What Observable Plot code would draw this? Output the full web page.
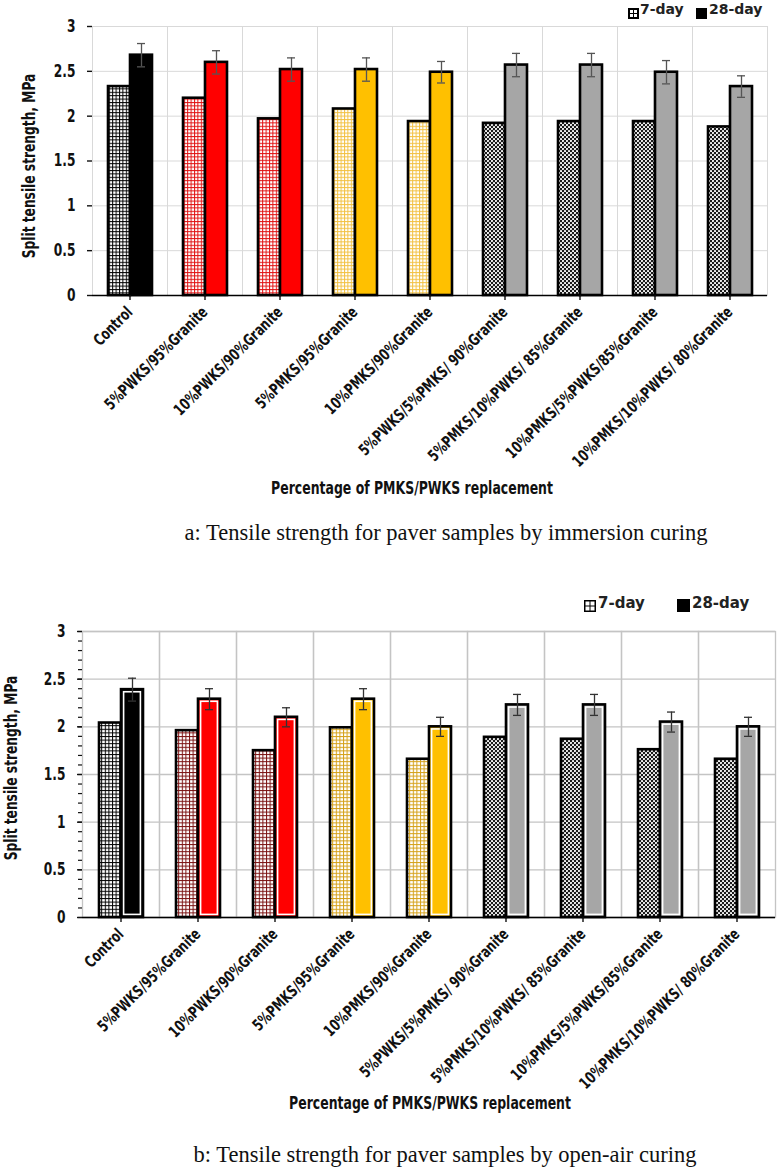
<!DOCTYPE html>
<html><head><meta charset="utf-8">
<script src="https://cdn.jsdelivr.net/npm/d3@7"></script>
<script src="https://cdn.jsdelivr.net/npm/@observablehq/plot@0.6"></script>
<style>
body{margin:0;background:#fff;width:782px;height:1168px;position:relative;overflow:hidden;}
.abs{position:absolute;white-space:nowrap;}
.narrow{font-family:"Liberation Sans Narrow","DejaVu Sans Condensed","Arial Narrow",sans-serif;font-weight:bold;color:#111;}
.ctr{transform:translate(-50%,-50%);}
.ctrn{transform:translate(-50%,-50%) scaleX(0.77);}
.rot{transform:translate(-50%,-50%) rotate(-90deg) scaleX(0.8);}
.cap{font-family:"Liberation Serif","Times New Roman",serif;font-size:22.5px;color:#111;}
.leg{font-family:"DejaVu Sans",sans-serif;font-weight:bold;color:#222;}
</style></head>
<body>
<div id="chartA" class="abs" style="left:0;top:0;"></div>
<div id="chartB" class="abs" style="left:0;top:610px;"></div>

<div class="abs narrow rot" style="left:29px;top:166px;font-size:17px;">Split tensile strength, MPa</div>
<div class="abs narrow ctrn" style="left:412px;top:487px;font-size:18px;">Percentage of PMKS/PWKS replacement</div>
<div class="abs cap ctr" style="left:446px;top:533px;">a: Tensile strength for paver samples by immersion curing</div>

<div class="abs narrow rot" style="left:11px;top:768px;font-size:17px;">Split tensile strength, MPa</div>
<div class="abs narrow ctrn" style="left:430px;top:1102px;font-size:18px;">Percentage of PMKS/PWKS replacement</div>
<div class="abs cap ctr" style="left:445px;top:1155px;">b: Tensile strength for paver samples by open-air curing</div>

<div class="abs" style="left:628px;top:5px;"><svg width="11" height="11"><rect width="11" height="11" fill="#000"/><rect x="2" y="2" width="3" height="3" fill="#fff"/><rect x="6" y="2" width="3" height="3" fill="#fff"/><rect x="2" y="6" width="3" height="3" fill="#fff"/><rect x="6" y="6" width="3" height="3" fill="#fff"/></svg></div>
<div class="abs leg" style="left:640px;top:1px;font-size:14px;">7-day</div>
<div class="abs" style="left:696px;top:5px;"><svg width="11" height="11"><rect width="11" height="11" fill="#000"/></svg></div>
<div class="abs leg" style="left:709px;top:1px;font-size:14px;">28-day</div>

<div class="abs" style="left:584px;top:598px;"><svg width="12" height="12"><rect width="12" height="12" fill="#000"/><rect x="1.5" y="1.5" width="4" height="4" fill="#fff"/><rect x="6.5" y="1.5" width="4" height="4" fill="#fff"/><rect x="1.5" y="6.5" width="4" height="4" fill="#fff"/><rect x="6.5" y="6.5" width="4" height="4" fill="#fff"/></svg></div>
<div class="abs leg" style="left:598px;top:594px;font-size:15px;">7-day</div>
<div class="abs" style="left:677px;top:598px;"><svg width="13" height="13"><rect width="13" height="13" fill="#000"/></svg></div>
<div class="abs leg" style="left:692px;top:594px;font-size:15px;">28-day</div>

<script>
const categories = ["Control","5%PWKS/95%Granite","10%PWKS/90%Granite","5%PMKS/95%Granite","10%PMKS/90%Granite","5%PWKS/5%PMKS/ 90%Granite","5%PMKS/10%PWKS/ 85%Granite","10%PMKS/5%PWKS/85%Granite","10%PMKS/10%PWKS/ 80%Granite"];
const series = ["7-day","28-day"];
const yTicks = [0,0.5,1,1.5,2,2.5,3];
const minorTicks = [0,0.1,0.2,0.3,0.4,0.5,0.6,0.7,0.8,0.9,1,1.1,1.2,1.3,1.4,1.5,1.6,1.7,1.8,1.9,2,2.1,2.2,2.3,2.4,2.5,2.6,2.7,2.8,2.9,3];

// a: immersion curing
const immersion7  = [2.33, 2.20, 1.97, 2.08, 1.94, 1.92, 1.94, 1.94, 1.88];
const immersion28 = [2.68, 2.60, 2.52, 2.52, 2.49, 2.57, 2.57, 2.49, 2.33];
const immersionErr = [0.13, 0.13, 0.13, 0.13, 0.12, 0.13, 0.13, 0.13, 0.12];
// b: open-air curing
const openAir7  = [2.04, 1.96, 1.75, 1.99, 1.66, 1.89, 1.87, 1.76, 1.66];
const openAir28 = [2.39, 2.29, 2.10, 2.29, 2.00, 2.23, 2.23, 2.05, 2.00];
const openAirErr = [0.12, 0.11, 0.10, 0.11, 0.10, 0.11, 0.11, 0.105, 0.10];

const fill28 = ["#000000","#ff0000","#ff0000","#ffc000","#ffc000","#a6a6a6","#a6a6a6","#a6a6a6","#a6a6a6"];
const pattern7 = ["gridBlack","gridRed","gridRed","gridYellow","gridYellow","dots","dots","dots","dots"];

const NARROW = '"Liberation Sans Narrow","DejaVu Sans Condensed","Arial Narrow",sans-serif';

function rows(v7, v28, err, prefix) {
  return categories.flatMap((c, i) => [
    {cat: c, series: "7-day", value: v7[i], fill: `url(#${prefix}-${pattern7[i]})`, err: 0},
    {cat: c, series: "28-day", value: v28[i], fill: fill28[i], err: err[i]}
  ]);
}

function gridPattern(id, line, size) {
  const w = size - 1;
  return `<pattern id="${id}" width="${size}" height="${size}" patternUnits="userSpaceOnUse"><rect width="${size}" height="${size}" fill="${line}"/><rect x="1" y="1" width="${w}" height="${w}" fill="#fff"/></pattern>`;
}

function defs(prefix, o) {
  return gridPattern(`${prefix}-gridBlack`, "#000", o.cell) +
    gridPattern(`${prefix}-gridRed`, o.red, o.cell) +
    gridPattern(`${prefix}-gridYellow`, o.yellow, o.cell) +
    `<pattern id="${prefix}-dots" width="4" height="4" patternUnits="userSpaceOnUse"><rect width="4" height="4" fill="#1a1a1a"/><circle cx="1" cy="1" r="1.05" fill="#fff"/><circle cx="3" cy="3" r="1.05" fill="#fff"/></pattern>`;
}

function chart(o) {
  const data = rows(o.v7, o.v28, o.err, o.prefix);
  const d28 = data.filter(d => d.series === "28-day");
  const marks = [
    Plot.frame({stroke: o.grid, strokeWidth: o.gridWidth}),
    Plot.gridY(yTicks, {stroke: o.grid, strokeOpacity: 1, strokeWidth: o.gridWidth}),
    Plot.barY(data, {fx: "cat", x: "series", y: "value", fill: "fill", stroke: "#000", strokeWidth: 2.6})
  ];
  if (o.double) {
    marks.push(Plot.barY(d28, {fx: "cat", x: "series", y: "value", fill: "none", stroke: "#fff", strokeWidth: 1.6, inset: 2.6}));
  }
  marks.push(
    Plot.ruleY([0], {stroke: "#000", strokeWidth: 1.6}),
    Plot.ruleX(d28, {fx: "cat", x: "series", y1: d => d.value - d.err, y2: d => d.value + d.err, stroke: o.errColor, strokeWidth: 1.3}),
    Plot.tickY(d28, {fx: "cat", x: "series", y: d => d.value + d.err, stroke: o.errColor, strokeWidth: 1.3, insetLeft: 7, insetRight: 7}),
    Plot.tickY(d28, {fx: "cat", x: "series", y: d => d.value - d.err, stroke: o.errColor, strokeWidth: 1.3, insetLeft: 7, insetRight: 7}),
    Plot.axisY(yTicks, {tickSize: 5, tickPadding: o.yPad, fontSize: 17, line: true, label: null, tickFormat: d => String(d), strokeWidth: 1.4})
  );
  if (o.minor) {
    marks.push(Plot.axisY(minorTicks, {tickSize: 4, tickFormat: () => "", label: null, strokeWidth: 1.2}));
  }
  marks.push(Plot.axisFx({anchor: "bottom", tickSize: 5, tickPadding: 9, tickRotate: -45, fontSize: 16, label: null, strokeWidth: 1.4}));

  const svg = Plot.plot({
    width: 782,
    height: o.height,
    marginTop: o.mt, marginBottom: o.mb, marginLeft: o.ml, marginRight: o.mr,
    style: {fontFamily: NARROW, fontWeight: "bold", fontSize: "15px", color: "#111", background: "transparent", overflow: "visible"},
    fx: {domain: categories, padding: 0},
    x: {domain: series, paddingInner: 0, paddingOuter: 0.7, axis: null},
    y: {domain: [0, 3], axis: null},
    color: {type: "identity"},
    marks
  });
  d3.select(svg).insert("defs", ":first-child").html(defs(o.prefix, o));
  return svg;
}

function condense(svg, k) {
  svg.querySelectorAll("text").forEach(t => {
    if (!t.textContent) return;
    const len = t.getComputedTextLength();
    if (len > 0) {
      t.setAttribute("textLength", (len * k).toFixed(2));
      t.setAttribute("lengthAdjust", "spacingAndGlyphs");
    }
  });
}

const svgA = chart({
  prefix: "a", v7: immersion7, v28: immersion28, err: immersionErr,
  height: 460, mt: 26, mb: 165, ml: 92, mr: 15, yPad: 12,
  grid: "#d9d9d9", gridWidth: 1, errColor: "#555", double: false, minor: false,
  red: "#e01010", yellow: "#f2c040", cell: 3.4
});
document.getElementById("chartA").appendChild(svgA);
condense(svgA, 0.8);

const svgB = chart({
  prefix: "b", v7: openAir7, v28: openAir28, err: openAirErr,
  height: 460, mt: 21, mb: 153, ml: 78, mr: 3, yPad: 12,
  grid: "#c4c4c4", gridWidth: 1.3, errColor: "#333", double: true, minor: true,
  red: "#7a1010", yellow: "#d4a017", cell: 3.6
});
document.getElementById("chartB").appendChild(svgB);
condense(svgB, 0.8);
</script>
</body></html>
